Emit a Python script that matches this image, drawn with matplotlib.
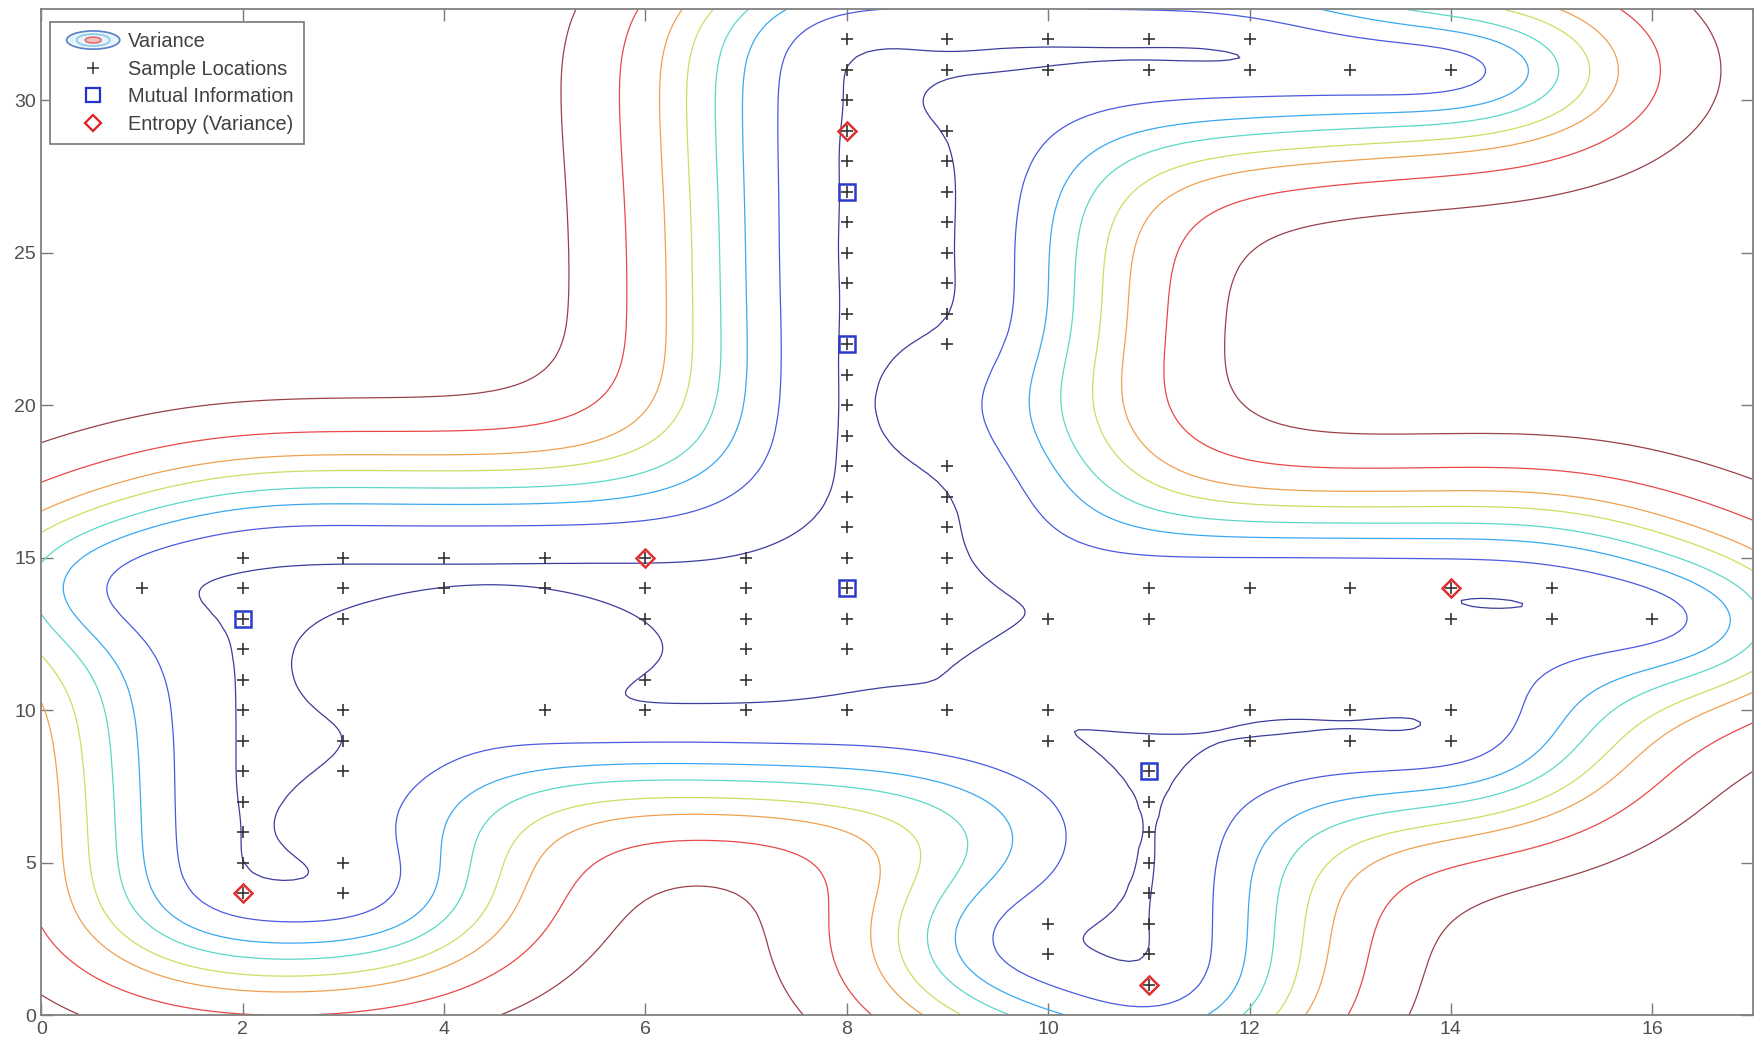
import numpy as np
import matplotlib
matplotlib.use('Agg')
import matplotlib.pyplot as plt
from matplotlib.legend_handler import HandlerBase
from matplotlib.patches import Ellipse
from matplotlib.lines import Line2D

plt.rcParams['font.family'] = ['Liberation Sans', 'DejaVu Sans']

# sample rows (y) taken in each x column
sample_cols = {
    1: [14],
    2: list(range(4, 16)),
    3: [4, 5, 8, 9, 10, 13, 14, 15],
    4: [14, 15],
    5: [10, 14, 15],
    6: [10, 11, 13, 14, 15],
    7: [10, 11, 12, 13, 14, 15],
    8: [10] + list(range(12, 33)),
    9: [10] + list(range(12, 19)) + list(range(22, 30)) + [31, 32],
    10: [2, 3, 9, 10, 13, 31, 32],
    11: list(range(1, 10)) + [13, 14, 31, 32],
    12: [9, 10, 14, 31, 32],
    13: [9, 10, 14, 31],
    14: [9, 10, 13, 14, 31],
    15: [13, 14],
    16: [13],
}
# locations picked by the two criteria
mi_x = [2, 8, 8, 8, 11]
mi_y = [13, 14, 22, 27, 8]
ent_x = [2, 6, 8, 11, 14]
ent_y = [4, 15, 29, 1, 14]

# GP hyperparameters (anisotropic squared exponential) and contour levels
len_x, len_y, noise = 1.8, 3.3, 0.05
var_levels = [0.016, 0.073, 0.155, 0.244, 0.357, 0.472, 0.638, 0.827]
line_colors = ['#3c3c9c', '#4a5ae0', '#3aa8f0', '#5cd8c8',
               '#c8e060', '#f0a050', '#e84848', '#9a4048']

sx = np.array([x for x, ys in sample_cols.items() for y in ys], float)
sy = np.array([y for x, ys in sample_cols.items() for y in ys], float)


def kern(ax_, ay_, bx_, by_):
    dx = (ax_[:, None] - bx_[None, :]) / len_x
    dy = (ay_[:, None] - by_[None, :]) / len_y
    return np.exp(-0.5 * (dx ** 2 + dy ** 2))


# posterior variance on a grid over the whole floor
K = kern(sx, sy, sx, sy) + noise * np.eye(len(sx))
gx = np.linspace(0, 17, 171)
gy = np.linspace(0, 33, 331)
GX, GY = np.meshgrid(gx, gy)
ks = kern(GX.ravel(), GY.ravel(), sx, sy)
V = 1.0 - np.einsum('ij,ji->i', ks, np.linalg.solve(K, ks.T))
V = V.reshape(GX.shape)

fig = plt.figure(figsize=(17.55, 10.45), dpi=100)
ax = fig.add_axes([0.0236, 0.0287, 0.9752, 0.9627])
ax.contour(GX, GY, V, levels=var_levels, colors=line_colors, linewidths=0.9)
ax.plot(sx, sy, '+', color='#333333', ms=9, mew=1.2, zorder=3)
ax.plot(mi_x, mi_y, 's', color='#2a3acc', mfc='none', ms=11.5, mew=1.8, zorder=4)
ax.plot(ent_x, ent_y, 'D', color='#e03030', mfc='none', ms=9, mew=1.8, zorder=4)

ax.set_xlim(0, 17)
ax.set_ylim(0, 33)
ax.set_xticks(range(0, 17, 2))
ax.set_yticks(range(0, 31, 5))
ax.tick_params(direction='in', length=8.5, width=1, top=True, right=True,
               color='#7a7a7a', labelcolor='#505050', labelsize=14, pad=4)
for s in ax.spines.values():
    s.set_color('#808080')
    s.set_linewidth(1.3)


class RingKey:
    pass


class RingHandler(HandlerBase):
    # small set of nested ellipses as the key for the contour lines
    def create_artists(self, legend, orig_handle, xdescent, ydescent,
                       width, height, fontsize, trans):
        cx = 0.5 * width - xdescent
        cy = 0.5 * height - ydescent
        rings = [(0.8, 1.3, '#5a7fc4', '#e8f4fb'),
                 (0.5, 0.85, '#8ccbe8', 'none'),
                 (0.24, 0.42, '#e07070', '#f4c0c0')]
        out = []
        for fw, fh, ec, fc in rings:
            out.append(Ellipse((cx, cy), width * fw, height * fh, edgecolor=ec,
                               facecolor=fc, lw=1.2, transform=trans))
        return out


handles = [RingKey(),
           Line2D([], [], ls='none', marker='+', color='#333333', ms=8, mew=1.1),
           Line2D([], [], ls='none', marker='s', color='#2233cc', mfc='none', ms=10, mew=1.6),
           Line2D([], [], ls='none', marker='D', color='#e02020', mfc='none', ms=8.5, mew=1.6)]
labels = ['Variance', 'Sample Locations', 'Mutual Information', 'Entropy (Variance)']
leg = ax.legend(handles, labels, handler_map={RingKey: RingHandler()},
                loc='upper left', bbox_to_anchor=(0.005, 0.987), borderaxespad=0,
                fontsize=14.4, handlelength=3.32, handletextpad=0.1, labelspacing=0.43,
                borderpad=0.5, fancybox=False, framealpha=1)
leg.get_frame().set_edgecolor('#777777')
leg.get_frame().set_linewidth(1.2)
for t in leg.get_texts():
    t.set_color('#404040')

fig.savefig('out.png', dpi=100)
